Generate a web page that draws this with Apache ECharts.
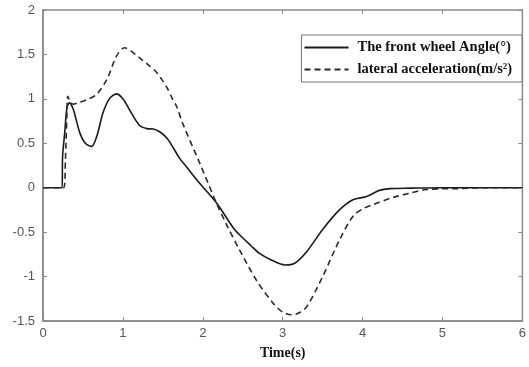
<!DOCTYPE html>
<html><head><meta charset="utf-8">
<script src="https://cdn.jsdelivr.net/npm/echarts@6/dist/echarts.min.js"></script>
<style>html,body{margin:0;padding:0;background:#fff}#c{width:529px;height:367px}</style>
</head><body><div id="c"></div>
<script>
const seriesNames = ['The front wheel Angle(\u00B0)', 'lateral acceleration(m/s\u00B2)'];
const xTicks = [0, 1, 2, 3, 4, 5, 6];
const yTicks = [-1.5, -1, -0.5, 0, 0.5, 1, 1.5, 2];

const angleT = [0, 0.24, 0.245, 0.27, 0.30, 0.33, 0.38, 0.46, 0.53, 0.61, 0.68, 0.75, 0.83, 0.92, 1.0, 1.1, 1.21, 1.3, 1.38, 1.46, 1.55, 1.63, 1.71, 1.8, 1.96, 2.17, 2.38, 2.46, 2.6, 2.71, 2.85, 3.03, 3.15, 3.3, 3.5, 3.71, 3.88, 4.05, 4.21, 4.34, 4.6, 5.0, 5.5, 6.0];
const angleY = [0, 0, 0.35, 0.6, 0.9, 0.955, 0.88, 0.62, 0.5, 0.465, 0.6, 0.84, 1.0, 1.056, 1.0, 0.85, 0.70, 0.665, 0.66, 0.63, 0.56, 0.45, 0.33, 0.23, 0.05, -0.17, -0.45, -0.53, -0.65, -0.74, -0.81, -0.87, -0.85, -0.72, -0.47, -0.25, -0.135, -0.10, -0.03, -0.01, -0.005, 0, 0, 0];

const accT = [0, 0.26, 0.28, 0.3, 0.31, 0.34, 0.38, 0.45, 0.55, 0.67, 0.8, 0.92, 1.02, 1.1, 1.21, 1.32, 1.42, 1.5, 1.55, 1.62, 1.67, 1.75, 1.96, 2.17, 2.3, 2.46, 2.67, 2.88, 3.0, 3.11, 3.2, 3.3, 3.5, 3.71, 3.88, 4.0, 4.13, 4.38, 4.6, 4.8, 5.2, 5.6, 6.0];
const accY = [0, 0, 0.3, 0.85, 1.03, 0.97, 0.94, 0.96, 0.99, 1.05, 1.22, 1.48, 1.575, 1.54, 1.46, 1.38, 1.30, 1.2, 1.13, 1.0, 0.92, 0.72, 0.28, -0.17, -0.42, -0.70, -1.04, -1.30, -1.40, -1.43, -1.41, -1.34, -1.0, -0.59, -0.32, -0.24, -0.19, -0.11, -0.06, -0.02, -0.01, 0, 0];

const zip = (a, b) => a.map((v, i) => [v, b[i]]);
const chart = echarts.init(document.getElementById('c'));
const axisCol = '#8a8a8a';
chart.setOption({
  animation: false,
  backgroundColor: '#fff',
  grid: { left: 43, right: 6, top: 10, bottom: 46, show: true, borderColor: axisCol, borderWidth: 1.5 },
  legend: {
    orient: 'vertical', right: 7, top: 35,
    itemWidth: 44, itemHeight: 12, itemGap: 7,
    padding: [5, 10, 5, 2],
    borderColor: '#777', borderWidth: 1, backgroundColor: '#fff',
    itemStyle: { opacity: 0 },
    textStyle: { fontFamily: 'Liberation Serif', fontWeight: 'bold', fontSize: 14.5, color: '#111', padding: [0, 0, 0, 4] },
    data: seriesNames
  },
  xAxis: [{
    type: 'value', min: 0, max: 6, interval: 1,
    name: 'Time(s)', nameLocation: 'middle', nameGap: 25,
    nameTextStyle: { fontFamily: 'Liberation Serif', fontWeight: 'bold', fontSize: 14, color: '#111' },
    axisLine: { show: true, onZero: false, lineStyle: { color: axisCol, width: 1.5 } },
    axisTick: { show: true, inside: true, length: 4, lineStyle: { color: axisCol } },
    axisLabel: { color: '#555', fontSize: 13, fontFamily: 'Liberation Sans', margin: 6, formatter: v => xTicks.includes(v) ? String(v) : '' },
    splitLine: { show: false }
  }, {
    type: 'value', position: 'top', min: 0, max: 6, interval: 1,
    axisLine: { show: false, onZero: false }, axisTick: { show: true, inside: true, length: 4, lineStyle: { color: axisCol } },
    axisLabel: { show: false }, splitLine: { show: false }
  }],
  yAxis: [{
    type: 'value', min: -1.5, max: 2, interval: 0.5,
    axisLine: { show: true, onZero: false, lineStyle: { color: axisCol, width: 1.5 } },
    axisTick: { show: true, inside: true, length: 4, lineStyle: { color: axisCol } },
    axisLabel: { color: '#555', fontSize: 13, fontFamily: 'Liberation Sans', margin: 8, formatter: v => yTicks.includes(v) ? String(v) : '' },
    splitLine: { show: false }
  }, {
    type: 'value', position: 'right', min: -1.5, max: 2, interval: 0.5,
    axisLine: { show: false, onZero: false }, axisTick: { show: true, inside: true, length: 4, lineStyle: { color: axisCol } },
    axisLabel: { show: false }, splitLine: { show: false }
  }],
  series: [{
    name: seriesNames[0], type: 'line', symbol: 'none', smooth: 0.3,
    data: zip(angleT, angleY),
    lineStyle: { color: '#1a1a1a', width: 1.6 }, itemStyle: { color: '#1a1a1a' }
  }, {
    name: seriesNames[1], type: 'line', symbol: 'none', smooth: 0.3,
    data: zip(accT, accY),
    lineStyle: { color: '#2a2a2a', width: 1.6, type: [6, 4] }, itemStyle: { color: '#2a2a2a' }
  }]
});
</script></body></html>
